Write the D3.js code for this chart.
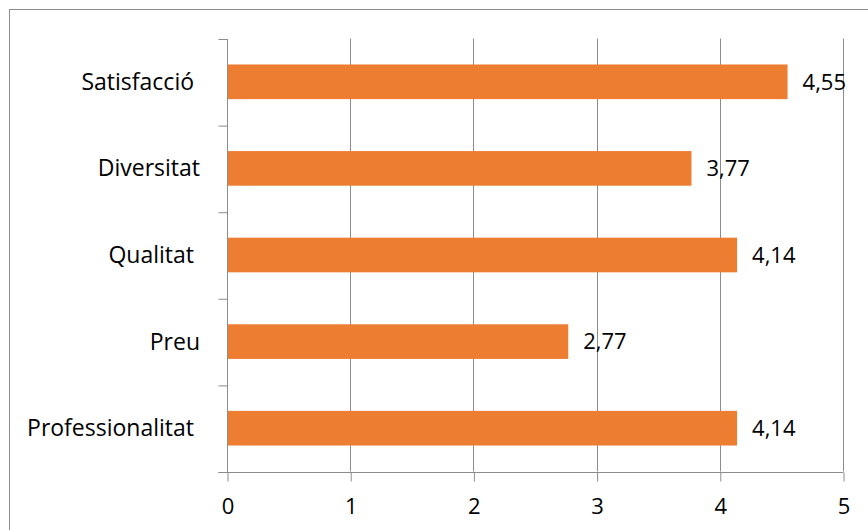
<!DOCTYPE html>
<html>
<head>
<meta charset="utf-8">
<script src="https://cdn.jsdelivr.net/npm/d3@7"></script>
<style>
  body { margin: 0; background: #fff; }
  text { font-family: "Open Sans", sans-serif; fill: #000; }
</style>
</head>
<body>
<svg id="chart" width="868" height="530"></svg>
<script>
// data
const categories = ["Satisfacció ", "Diversitat", "Qualitat ", "Preu", "Professionalitat "];
const values = [4.55, 3.77, 4.14, 2.77, 4.14];
const xTicks = [0, 1, 2, 3, 4, 5];

const svg = d3.select("#chart");
const fontFam = "'Open Sans', sans-serif";

// outer frame
svg.append("rect")
  .attr("x", 9.5).attr("y", 9.5)
  .attr("width", 870).attr("height", 540)
  .attr("fill", "none").attr("stroke", "#8c8c8c");

const plotLeft = 227, plotRight = 843, plotTop = 38.5, plotBottom = 471.5;

const x = d3.scaleLinear().domain([0, 5]).range([plotLeft, plotRight]);
const y = d3.scaleBand().domain(categories).range([plotTop, plotBottom])
  .paddingInner(0.6).paddingOuter(0.3);

// vertical gridlines
svg.append("g").selectAll("line")
  .data(xTicks.slice(1))
  .enter().append("line")
    .attr("x1", d => Math.round(x(d)) + 0.5)
    .attr("x2", d => Math.round(x(d)) + 0.5)
    .attr("y1", plotTop).attr("y2", plotBottom)
    .attr("stroke", "#8c8c8c");

// bars
svg.append("g").selectAll("rect")
  .data(values)
  .enter().append("rect")
    .attr("x", x(0))
    .attr("y", (d, i) => y(categories[i]))
    .attr("width", d => x(d) - x(0))
    .attr("height", y.bandwidth())
    .attr("fill", "#ed7d31");

// value labels
svg.append("g").selectAll("text")
  .data(values)
  .enter().append("text")
    .attr("x", d => x(d) + 15)
    .attr("y", (d, i) => y(categories[i]) + y.bandwidth() / 2)
    .attr("dy", "0.35em")
    .attr("font-size", 22)
    .text(d => d3.format(".2f")(d).replace(".", ","));

// y axis
const yAxis = d3.axisLeft(d3.scaleLinear().domain([0, 5]).range([plotTop, plotBottom]))
  .tickValues([0, 1, 2, 3, 4, 5]).tickSize(9).tickFormat("");
const gy = svg.append("g").attr("transform", `translate(${Math.round(plotLeft) + 0.5},0.5)`).call(yAxis);
gy.selectAll("path, line").attr("stroke", "#8c8c8c");
gy.select(".domain").attr("d", `M0,${plotTop}V${plotBottom}`);

// category labels
svg.append("g").selectAll("text")
  .data(categories)
  .enter().append("text")
    .attr("x", 200)
    .attr("y", d => y(d) + y.bandwidth() / 2)
    .attr("dy", "0.35em")
    .attr("text-anchor", "end")
    .attr("font-size", 23)
    .style("white-space", "pre")
    .text(d => d);

// x axis
const xAxis = d3.axisBottom(x).tickValues(xTicks).tickSize(9).tickPadding(17)
  .tickFormat(d3.format("d"));
const gx = svg.append("g").attr("transform", `translate(0.5,${Math.round(plotBottom) + 0.5})`).call(xAxis);
gx.selectAll("path, line").attr("stroke", "#8c8c8c");
gx.select(".domain").attr("d", `M${plotLeft - 9},0H${plotRight}`);
gx.selectAll("text").attr("font-size", 22).attr("fill", "#000")
  .style("font-family", fontFam);
</script>
</body>
</html>
